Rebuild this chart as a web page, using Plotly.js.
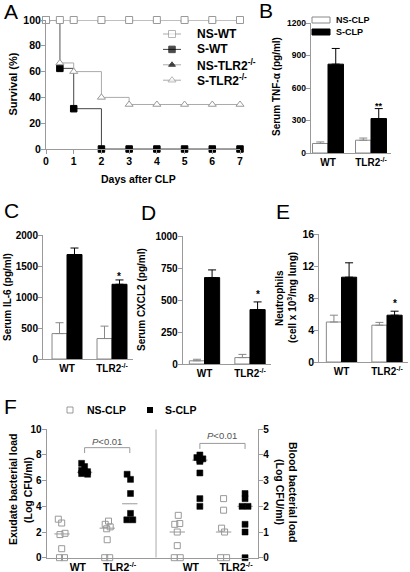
<!DOCTYPE html>
<html><head><meta charset="utf-8">
<script src="https://cdn.plot.ly/plotly-3.0.1.min.js"></script>
<style>html,body{margin:0;padding:0;background:#fff}#chart{width:410px;height:572px}</style>
</head><body><div id="chart"></div>
<script>
// ================= DATA =================
// Panel A: survival
const days = [0, 0.5, 1, 2, 3, 4, 5, 6, 7];
const survNSWT   = [100, 100, 100, 100, 100, 100, 100, 100, 100];
const survSWT    = [100, 62.5, 31.25, 0, 0, 0, 0, 0, 0];
const survNSTLR2 = [100, 100, 100, 100, 100, 100, 100, 100, 100];
const survSTLR2  = [100, 66.7, 60, 40, 34.5, 34.5, 34.5, 34.5, 34.5];
const survNames  = ['NS-WT', 'S-WT', 'NS-TLR2<sup>-/-</sup>', 'S-TLR2<sup>-/-</sup>'];

// Bar panels B-E
const groups = ['WT', 'TLR2<sup>-/-</sup>'];
const barNames = ['NS-CLP', 'S-CLP'];
const tnfNS = [88, 118],   tnfNSErr = [14, 20],   tnfS = [820, 318],   tnfSErr = [145, 92];
const il6NS = [410, 330],  il6NSErr = [175, 200], il6S = [1685, 1205], il6SErr = [105, 70];
const cxNS  = [25, 50],    cxNSErr  = [12, 25],   cxS  = [675, 425],   cxSErr  = [60, 60];
const neuNS = [5.0, 4.6],  neuNSErr = [0.85, 0.35], neuS = [10.6, 5.85], neuSErr = [1.8, 0.5];
const sigB = ['', '**'], sigC = ['', '*'], sigD = ['', '*'], sigE = ['', '*'];

// Panel F: bacterial load (Log CFU/ml)
const exWT_NS  = [3.0, 2.7, 1.9, 1.8, 0.7, 0, 0];
const exWT_S   = [7.35, 7.1, 6.8, 6.7, 6.65, 6.55, 6.5];
const exTLR_NS = [2.85, 2.6, 2.4, 2.25, 1.4, 0, 0];
const exTLR_S  = [6.5, 6.1, 5.0, 3.45, 2.95, 2.95];
const exMedian = [1.85, 6.65, 2.3, 4.2];
const blWT_NS  = [1.65, 1.33, 1.3, 1.0, 0.47, 0, 0];
const blWT_S   = [4.0, 3.9, 3.85, 3.8, 3.75, 3.3, 2.3, 2.0];
const blTLR_NS = [2.3, 1.85, 1.15, 1.0, 0, 0];
const blTLR_S  = [2.5, 2.3, 2.0, 2.0, 1.3, 1.0, 0];
const blMedian = [1.0, 3.8, 1.0, 2.0];
const pText = '<i>P</i>&lt;0.01';

// ================= LAYOUT HELPERS =================
const W = 410, H = 572;
const FONT = 'Liberation Sans, Arial, sans-serif';
const fx = p => p / W;
const fy = p => 1 - p / H;
const dom = (a, b) => [fx(a), fx(b)];
const domY = (top, bot) => [fy(bot), fy(top)];
const AX = '#9a9a9a';
function ax(extra, size) {
  return Object.assign({
    showline: true, linecolor: AX, linewidth: 1, ticks: 'outside', tickcolor: AX,
    ticklen: 4, tickwidth: 1, showgrid: false, zeroline: false, fixedrange: true,
    ticklabelstandoff: -2,
    tickfont: {family: FONT, size: size || 10, color: '#000', weight: 'bold'}
  }, extra);
}
function barRange(left, right, c0, unit) { return [(left - c0) / unit, (right - c0) / unit]; }

const traces = [];
const annotations = [];
const shapes = [];

// ---------- Panel A ----------
const aStyles = [
  {y: survSWT, line: '#444', sym: 'square', fill: '#000', mline: '#000', size: 6.5},
  {y: survSTLR2, line: '#aaa', sym: 'triangle-up', fill: '#fff', mline: '#999', size: 7},
  {y: survNSTLR2, line: '#aaa', sym: 'triangle-up', fill: '#000', mline: '#000', size: 6},
  {y: survNSWT, line: '#aaa', sym: 'square', fill: '#fff', mline: '#999', size: 7}
];
aStyles.forEach(s => traces.push({
  type: 'scatter', mode: 'lines+markers', x: days, y: s.y, xaxis: 'x', yaxis: 'y',
  line: {shape: 'hv', color: s.line, width: 1}, cliponaxis: false,
  marker: {symbol: s.sym, color: s.fill, size: s.size, line: {color: s.mline, width: 1}},
  hoverinfo: 'skip'
}));

// Legend for A (glyphs on pixel overlay axes)
const legA = [aStyles[3], aStyles[0], aStyles[2], aStyles[1]];
legA.forEach((s, i) => {
  const yy = 34 + i * 15.4;
  traces.push({type: 'scatter', mode: 'lines+markers', x: [163, 172, 181], y: [yy, yy, yy],
    xaxis: 'x9', yaxis: 'y9', cliponaxis: false, hoverinfo: 'skip',
    line: {color: s.line, width: 1},
    marker: {symbol: s.sym, color: s.fill, size: [0, s.size, 0], line: {color: s.mline, width: 1}}});
  annotations.push({xref: 'x9', yref: 'y9', x: 195, y: yy, xanchor: 'left', yanchor: 'middle',
    text: survNames[i], showarrow: false, font: {family: FONT, size: 12, weight: 'bold', color: '#000'}});
});

// ---------- Bar panels ----------
function barPanel(xa, ya, ns, nsErr, s, sErr, sig, w, yshift, sigSize) {
  const pos = groups.map((g, i) => i);
  traces.push({type: 'bar', x: pos, y: ns, xaxis: xa, yaxis: ya, width: w, offset: -w,
    marker: {color: '#fff', line: {color: '#888', width: 1}}, hoverinfo: 'skip',
    error_y: {type: 'data', array: nsErr, arrayminus: ns.map(() => 0), symmetric: false,
      color: '#888', thickness: 1, width: 4}});
  traces.push({type: 'bar', x: pos, y: s, xaxis: xa, yaxis: ya, width: w, offset: 0,
    marker: {color: '#000', line: {color: '#000', width: 1}}, hoverinfo: 'skip',
    error_y: {type: 'data', array: sErr, arrayminus: s.map(() => 0), symmetric: false,
      color: '#000', thickness: 1, width: 4}});
  sig.forEach((t, i) => {
    if (!t) return;
    annotations.push({xref: xa, yref: ya, x: i + w / 2, y: s[i] + sErr[i], yanchor: 'bottom',
      yshift: yshift, text: t, showarrow: false,
      font: {family: FONT, size: sigSize, weight: 'bold', color: '#000'}});
  });
}
barPanel('x2', 'y2', tnfNS, tnfNSErr, tnfS, tnfSErr, sigB, 0.36, -4, 9);
barPanel('x3', 'y3', il6NS, il6NSErr, il6S, il6SErr, sigC, 0.333, -4, 10);
barPanel('x4', 'y4', cxNS, cxNSErr, cxS, cxSErr, sigD, 0.333, 0, 10);
barPanel('x5', 'y5', neuNS, neuNSErr, neuS, neuSErr, sigE, 0.333, 0, 10);

// Legend for B
shapes.push({type: 'rect', xref: 'x9', yref: 'y9', x0: 312, x1: 330, y0: 17, y1: 23,
  fillcolor: '#fff', line: {color: '#888', width: 1}});
shapes.push({type: 'rect', xref: 'x9', yref: 'y9', x0: 312, x1: 330, y0: 29, y1: 35,
  fillcolor: '#000', line: {color: '#000', width: 1}});
barNames.forEach((n, i) => annotations.push({xref: 'x9', yref: 'y9', x: 334, y: 20 + i * 12,
  xanchor: 'left', yanchor: 'middle', text: n, showarrow: false,
  font: {family: FONT, size: 9, weight: 'bold', color: '#000'}}));

// ---------- Panel F ----------
const UNIT_F = 22.6; // px per x unit
const posL = [1, 2, 3, 4], posR = [6.1, 7.1, 8.15, 9.1];
const jit = {
  exWT_NS: [-3.7, -0.3, 3, -2, -0.3, -2.5, 2.5],
  exWT_S: [-3, 0, -3, 3, 0, -3, 3],
  exTLR_NS: [1.3, -2, 3, -0.5, 0, -2.5, 2.5],
  exTLR_S: [-2.7, 0.7, 0.7, 0.7, -3, 3],
  blWT_NS: [1, 2.5, -2.5, 0, 0, -3, 3],
  blWT_S: [0, -3, 3, 0, 0, 0, 0, 0],
  blTLR_NS: [0, 0, -2, 1, -3, 3],
  blTLR_S: [0, 0, -3, 3, 0, 0, 0]
};
const fSets = [
  {v: exWT_NS, j: jit.exWT_NS, p: posL[0], y: 'y6', open: true},
  {v: exWT_S, j: jit.exWT_S, p: posL[1], y: 'y6', open: false},
  {v: exTLR_NS, j: jit.exTLR_NS, p: posL[2], y: 'y6', open: true},
  {v: exTLR_S, j: jit.exTLR_S, p: posL[3], y: 'y6', open: false},
  {v: blWT_NS, j: jit.blWT_NS, p: posR[0], y: 'y7', open: true},
  {v: blWT_S, j: jit.blWT_S, p: posR[1], y: 'y7', open: false},
  {v: blTLR_NS, j: jit.blTLR_NS, p: posR[2], y: 'y7', open: true},
  {v: blTLR_S, j: jit.blTLR_S, p: posR[3], y: 'y7', open: false}
];
function medTrace(meds, pos, ya) {
  const x = [], y = [];
  meds.forEach((m, i) => { x.push(pos[i] - 0.34, pos[i] + 0.34, null); y.push(m, m, null); });
  traces.push({type: 'scatter', mode: 'lines', x, y, xaxis: 'x6', yaxis: ya,
    line: {color: '#999', width: 1}, hoverinfo: 'skip', cliponaxis: false});
}
medTrace(exMedian, posL, 'y6');
medTrace(blMedian, posR, 'y7');
fSets.forEach(s => traces.push({
  type: 'scatter', mode: 'markers', x: s.v.map((_, i) => s.p + s.j[i] / UNIT_F), y: s.v,
  xaxis: 'x6', yaxis: s.y, cliponaxis: false, hoverinfo: 'skip',
  marker: s.open ? {symbol: 'square-open', size: 6, color: '#999', line: {color: '#999', width: 1}}
                 : {symbol: 'square', size: 6, color: '#000', line: {color: '#000', width: 0.5}}
}));
shapes.push({type: 'line', xref: 'x6', yref: 'y6', x0: 5.16, x1: 5.16, y0: 0, y1: 10,
  line: {color: '#aaa', width: 1}});
function bracket(x0, x1, yTop, yBot, tx, ty) {
  shapes.push({type: 'path', xref: 'x6', yref: 'y6',
    path: `M ${x0} ${yBot} L ${x0} ${yTop} L ${x1} ${yTop} L ${x1} ${yBot}`,
    line: {color: '#999', width: 1}});
  annotations.push({xref: 'x6', yref: 'y6', x: tx, y: ty, text: pText, showarrow: false,
    font: {family: FONT, size: 9.5, color: '#555'}});
}
bracket(posL[1], posL[3], 8.57, 8.15, 3.0, 9.05);
bracket(posR[1], posR[3], 8.9, 8.47, 8.07, 9.55);
traces.push({type: 'scatter', mode: 'markers', x: [70], y: [410], xaxis: 'x9', yaxis: 'y9',
  marker: {symbol: 'square-open', size: 6, color: '#999'}, hoverinfo: 'skip', cliponaxis: false});
traces.push({type: 'scatter', mode: 'markers', x: [150], y: [410], xaxis: 'x9', yaxis: 'y9',
  marker: {symbol: 'square', size: 6, color: '#000'}, hoverinfo: 'skip', cliponaxis: false});
[[85, barNames[0]], [163, barNames[1]]].forEach(([x, t]) => annotations.push({xref: 'x9', yref: 'y9',
  x, y: 410, xanchor: 'left', yanchor: 'middle', text: t, showarrow: false,
  font: {family: FONT, size: 10.5, weight: 'bold', color: '#000'}}));

// ---------- Text labels (pixel coordinates) ----------
function txt(x, y, t, size, opts) {
  annotations.push(Object.assign({xref: 'x9', yref: 'y9', x, y, text: t, showarrow: false,
    xanchor: 'center', yanchor: 'middle',
    font: {family: FONT, size, weight: 'bold', color: '#000'}}, opts || {}));
}
const letter = {family: FONT, size: 21, color: '#000', weight: 'normal'};
[['A', 2, 11], ['B', 257, 10.5], ['C', 2, 210], ['D', 139, 212.5], ['E', 274, 211], ['F', 2, 406.5]]
  .forEach(([t, x, y]) => txt(x, y, t, 21, {xanchor: 'left', font: letter}));
txt(12.5, 84, 'Survival (%)', 11, {textangle: -90});
txt(138.5, 179, 'Days after CLP', 10.5);
txt(276, 87, 'Serum TNF-α (pg/ml)', 10, {textangle: -90});
txt(7, 297, 'Serum IL-6 (pg/ml)', 10, {textangle: -90});
txt(141, 300, 'Serum CXCL2 (pg/ml)', 10, {textangle: -90});
txt(279, 298, 'Neutrophils', 10, {textangle: -90});
txt(292, 298, '(cell x 10<sup>3</sup>/mg lung)', 10, {textangle: -90});
txt(13, 490, 'Exudate bacterial load', 10.5, {textangle: -90});
txt(28, 490, '(Log CFU/ml)', 10.5, {textangle: -90});
txt(293, 492, 'Blood bacterial load', 10.5, {textangle: 90});
txt(280, 492, '(Log CFU/ml)', 10.5, {textangle: 90});

// ================= LAYOUT =================
const catTicks = size => ({tickmode: 'array', tickvals: [0, 1], ticktext: groups, ticks: '',
  ticklabelstandoff: 0, tickfont: {family: FONT, size, color: '#000', weight: 'bold'}});
const F_LEFT = 46.5, F_RIGHT = 258.3, F_P0 = 62;
const layout = {
  width: W, height: H, margin: {l: 0, r: 0, t: 0, b: 0}, showlegend: false,
  paper_bgcolor: '#fff', plot_bgcolor: 'rgba(0,0,0,0)', barmode: 'overlay',
  font: {family: FONT, color: '#000'},
  xaxis: ax({domain: dom(46, 240), anchor: 'y', range: [0, 7], dtick: 1}, 10.5),
  yaxis: ax({domain: domY(20, 149), anchor: 'x', range: [0, 100], dtick: 20}, 10.5),
  xaxis2: ax(Object.assign({domain: dom(310.7, 391), anchor: 'y2', range: barRange(310.7, 391, 328, 43)}, catTicks(10))),
  yaxis2: ax({domain: domY(23, 153), anchor: 'x2', range: [0, 1200], tickvals: [0, 300, 600, 900, 1200]}, 8.5),
  xaxis3: ax(Object.assign({domain: dom(43, 133), anchor: 'y3', range: barRange(43, 133, 67, 45)}, catTicks(10))),
  yaxis3: ax({domain: domY(235, 359), anchor: 'x3', range: [0, 2000], dtick: 500}, 10),
  xaxis4: ax(Object.assign({domain: dom(182.7, 271), anchor: 'y4', range: barRange(182.7, 271, 204.5, 45.5)}, catTicks(10))),
  yaxis4: ax({domain: domY(236, 364), anchor: 'x4', range: [0, 1000], dtick: 250}, 10),
  xaxis5: ax(Object.assign({domain: dom(319.3, 408), anchor: 'y5', range: barRange(319.3, 408, 341.5, 45.5)}, catTicks(10))),
  yaxis5: ax({domain: domY(234, 362), anchor: 'x5', range: [0, 16], dtick: 4}, 10.5),
  xaxis6: ax({domain: dom(F_LEFT, F_RIGHT), anchor: 'y6',
    range: [1 - (F_P0 - F_LEFT) / UNIT_F, 1 + (F_RIGHT - F_P0) / UNIT_F], ticks: '', ticklabelstandoff: 0,
    tickmode: 'array', tickvals: [1.7, 3.55, 6.7, 8.7], ticktext: [groups[0], groups[1], groups[0], groups[1]]}, 10.5),
  yaxis6: ax({domain: domY(429.3, 557.7), anchor: 'x6', range: [0, 10], dtick: 2}, 10),
  yaxis7: ax({domain: domY(429.3, 557.7), anchor: 'x6', overlaying: 'y6', side: 'right', range: [0, 5], dtick: 1}, 10),
  xaxis9: {domain: [0, 1], anchor: 'y9', range: [0, W], visible: false, fixedrange: true},
  yaxis9: {domain: [0, 1], anchor: 'x9', range: [H, 0], visible: false, fixedrange: true},
  annotations, shapes
};
Plotly.newPlot('chart', traces, layout, {staticPlot: true, displayModeBar: false});
</script></body></html>
